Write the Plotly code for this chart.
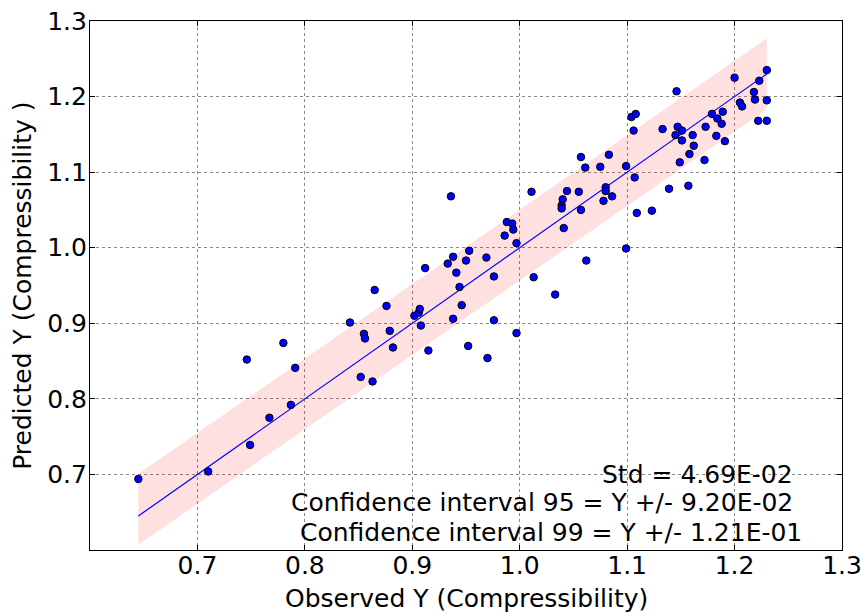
import plotly.graph_objects as go

observed = [0.645, 0.710, 0.749, 0.767, 0.787, 0.863, 0.746, 0.780, 0.791, 0.842,
            0.865, 0.876, 0.855, 0.856, 0.879, 0.852, 0.882, 0.912, 0.902, 0.906,
            0.907, 0.908, 0.915, 0.936, 0.933, 0.938, 0.941, 0.944, 0.946, 0.938,
            0.950, 0.953, 0.952, 0.969, 0.976, 0.970, 0.976, 0.986, 0.988, 0.993,
            0.994, 0.997, 0.997, 1.011, 1.013, 1.033, 1.039, 1.039, 1.040, 1.044,
            1.041, 1.055, 1.057, 1.061, 1.057, 1.062, 1.075, 1.083, 1.080, 1.080,
            1.078, 1.086, 1.099, 1.107, 1.099, 1.109, 1.123, 1.139, 1.149, 1.104,
            1.108, 1.106, 1.133, 1.146, 1.147, 1.145, 1.151, 1.151, 1.158, 1.161,
            1.162, 1.157, 1.172, 1.173, 1.179, 1.184, 1.183, 1.188, 1.189, 1.191,
            1.200, 1.205, 1.207, 1.218, 1.219, 1.223, 1.230, 1.230, 1.222, 1.230]
predicted = [0.694, 0.704, 0.739, 0.775, 0.792, 0.823, 0.852, 0.874, 0.841, 0.901,
             0.944, 0.923, 0.886, 0.880, 0.890, 0.829, 0.868, 0.973, 0.910, 0.914,
             0.919, 0.897, 0.864, 1.068, 0.979, 0.988, 0.967, 0.948, 0.924, 0.906,
             0.983, 0.996, 0.870, 0.987, 0.962, 0.854, 0.904, 1.016, 1.034, 1.032,
             1.024, 1.006, 0.887, 1.074, 0.961, 0.938, 1.056, 1.052, 1.064, 1.075,
             1.026, 1.074, 1.120, 1.106, 1.050, 0.983, 1.107, 1.123, 1.080, 1.075,
             1.062, 1.068, 1.108, 1.093, 0.999, 1.046, 1.049, 1.078, 1.113, 1.173,
             1.177, 1.155, 1.157, 1.207, 1.160, 1.149, 1.155, 1.142, 1.124, 1.149,
             1.135, 1.082, 1.116, 1.160, 1.177, 1.171, 1.148, 1.164, 1.180, 1.141,
             1.225, 1.192, 1.187, 1.206, 1.196, 1.221, 1.235, 1.195, 1.168, 1.168]

std_value = 0.0469
ci95_value = 0.0920
ci99_value = 0.121
band_slope = 0.985
band_intercept = 0.0186

tick_values = [0.7, 0.8, 0.9, 1.0, 1.1, 1.2, 1.3]
tick_labels = ["0.7", "0.8", "0.9", "1.0", "1.1", "1.2", "1.3"]

x_lo, x_hi = min(observed), max(observed)
band_x = [x_lo, x_hi]
band_center = [band_slope * v + band_intercept for v in band_x]
band_lower = [c - std_value for c in band_center]
band_upper = [c + std_value for c in band_center]

FONT = "DejaVu Sans"
FS = 25

fig = go.Figure()
fig.add_trace(go.Scatter(x=band_x, y=band_lower, mode="lines",
                         line=dict(width=0), hoverinfo="skip", showlegend=False))
fig.add_trace(go.Scatter(x=band_x, y=band_upper, mode="lines",
                         line=dict(width=0), fill="tonexty",
                         fillcolor="rgba(255,0,0,0.12)", hoverinfo="skip", showlegend=False))
fig.add_trace(go.Scatter(x=band_x, y=band_x, mode="lines",
                         line=dict(color="#0000ff", width=1.2), showlegend=False))
fig.add_trace(go.Scatter(x=observed, y=predicted, mode="markers",
                         marker=dict(color="#0000ff", size=7.5,
                                     line=dict(color="black", width=1)),
                         showlegend=False))

def fmt(v, digits=2):
    s = f"{v:.{digits}E}"
    mant, exp = s.split("E")
    return f"{mant}E{int(exp):+03d}".replace("+", "")

ann_font = dict(family=FONT, size=FS, color="black")
fig.add_annotation(xref="paper", yref="paper", x=0.937, y=0.143,
                   xanchor="right", yanchor="middle", showarrow=False,
                   text=f"Std = {fmt(std_value)}", font=ann_font)
fig.add_annotation(xref="paper", yref="paper", x=0.937, y=0.089,
                   xanchor="right", yanchor="middle", showarrow=False,
                   text=f"Confidence interval 95 = Y +/- {fmt(ci95_value)}", font=ann_font)
fig.add_annotation(xref="paper", yref="paper", x=0.949, y=0.034,
                   xanchor="right", yanchor="middle", showarrow=False,
                   text=f"Confidence interval 99 = Y +/- {fmt(ci99_value)}", font=ann_font)

axis_common = dict(
    showline=True, linecolor="black", linewidth=1.2, mirror="ticks",
    ticks="inside", ticklen=5, tickcolor="black", tickwidth=1,
    showgrid=True, gridcolor="#888888", griddash="dot", gridwidth=1,
    zeroline=False, tickvals=tick_values, ticktext=tick_labels,
    tickfont=dict(family=FONT, size=FS, color="black"), automargin=False,
)

fig.update_layout(
    width=862, height=613,
    margin=dict(l=90, r=20, t=21, b=63),
    plot_bgcolor="white", paper_bgcolor="white",
    font=dict(family=FONT, size=FS, color="black"),
    xaxis=dict(range=[0.6, 1.3], ticklabelstandoff=-7, **axis_common),
    yaxis=dict(range=[0.6, 1.3], ticklabelstandoff=-3, **axis_common),
    showlegend=False,
)

# axis titles placed as paper-anchored text
fig.add_annotation(xref="paper", yref="paper", x=0.5, y=-0.091,
                   xanchor="center", yanchor="middle", showarrow=False,
                   text="Observed Y (Compressibility)", font=ann_font)
fig.add_annotation(xref="paper", yref="paper", x=-0.09, y=0.5, textangle=-90,
                   xanchor="center", yanchor="middle", showarrow=False,
                   text="Predicted Y (Compressibility )", font=ann_font)

fig.write_html("out.html")
